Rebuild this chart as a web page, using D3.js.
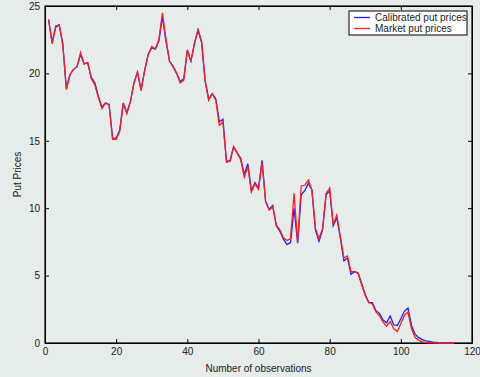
<!DOCTYPE html>
<html>
<head>
<meta charset="utf-8">
<script src="https://cdn.jsdelivr.net/npm/d3@7"></script>
<style>
  body { margin: 0; background: #e5ece9; }
  svg { display: block; font-family: "Liberation Sans", Arial, sans-serif; }
</style>
</head>
<body>
<script>
// observation index 1..115
let market = [24.0, 22.2, 23.4, 23.6, 22.1, 18.8, 19.9, 20.3, 20.5, 21.55,
  20.7, 20.8, 19.6, 19.15, 18.2, 17.4, 17.8, 17.7, 15.1, 15.1,
  15.7, 17.8, 17.0, 17.9, 19.3, 20.1, 18.7, 20.2, 21.4, 22.0,
  21.8, 22.5, 24.5, 22.5, 20.9, 20.5, 20.0, 19.3, 19.5, 21.75,
  20.9, 22.25, 23.25, 22.4, 19.4, 18.0, 18.5, 18.0, 16.15, 16.4,
  13.4, 13.5, 14.57, 14.1, 13.6, 12.3, 13.1, 11.2, 11.8, 11.4,
  13.4, 10.5, 9.85, 10.1, 8.75, 8.4, 7.8, 7.6, 7.75, 11.1,
  7.46, 11.65, 11.7, 12.1, 11.35, 8.5, 7.75, 8.5, 11.1, 11.5,
  8.8, 9.5, 7.9, 6.3, 6.45, 5.3, 5.3, 5.15, 4.3, 3.5,
  3.0, 2.9, 2.3, 2.0, 1.55, 1.25, 1.6, 1.05, 0.85, 1.45,
  2.05, 2.3, 1.05, 0.4, 0.2, 0.08, 0.03, 0.02, 0.01, 0.0,
  0.0, 0.0, 0.0, 0.0, 0.0];

let calibrated = [24.0, 22.3, 23.5, 23.6, 22.2, 18.9, 19.9, 20.3, 20.5, 21.4,
  20.7, 20.8, 19.7, 19.3, 18.3, 17.5, 17.8, 17.7, 15.2, 15.2,
  15.8, 17.8, 17.1, 17.9, 19.3, 20.1, 18.8, 20.2, 21.4, 21.9,
  21.8, 22.4, 24.2, 22.4, 20.9, 20.5, 20.0, 19.4, 19.6, 21.7,
  20.9, 22.2, 23.2, 22.3, 19.5, 18.1, 18.5, 18.1, 16.4, 16.6,
  13.5, 13.5, 14.55, 14.1, 13.7, 12.5, 13.3, 11.3, 11.9, 11.5,
  13.55, 10.5, 9.9, 10.2, 8.7, 8.3, 7.7, 7.3, 7.45, 10.0,
  7.4, 11.0, 11.3, 11.85, 11.35, 8.4, 7.55, 8.4, 11.0, 11.3,
  8.7, 9.3, 7.8, 6.1, 6.3, 5.1, 5.3, 5.2, 4.4, 3.6,
  3.0, 3.0, 2.4, 2.2, 1.7, 1.5, 2.0, 1.35, 1.3, 1.8,
  2.35, 2.6, 1.3, 0.65, 0.4, 0.25, 0.15, 0.12, 0.07, 0.04,
  0.0, 0.0, 0.0, 0.0, 0.0];

let xTicks = [0, 20, 40, 60, 80, 100, 120];
let yTicks = [0, 5, 10, 15, 20, 25];
let seriesNames = ['Calibrated put prices', 'Market put prices'];
let seriesColors = ['#1f1fff', '#ff1f1f'];

let width = 480, height = 377;
let margin = {left: 45, right: 8, top: 6, bottom: 34};

let svg = d3.select('body').append('svg').attr('width', width).attr('height', height);

let x = d3.scaleLinear().domain([0, 120]).range([margin.left, width - margin.right]);
let y = d3.scaleLinear().domain([0, 25]).range([height - margin.bottom, margin.top]);

// axes (ticks pointing in, like matlab)
svg.append('g')
   .attr('transform', 'translate(0,' + (height - margin.bottom) + ')')
   .call(d3.axisBottom(x).tickValues(xTicks).tickSizeInner(-4).tickSizeOuter(0).tickPadding(5));
svg.append('g')
   .attr('transform', 'translate(0,' + margin.top + ')')
   .call(d3.axisTop(x).tickValues(xTicks).tickSizeInner(-4).tickSizeOuter(0).tickFormat(''));
svg.append('g')
   .attr('transform', 'translate(' + margin.left + ',0)')
   .call(d3.axisLeft(y).tickValues(yTicks).tickSizeInner(-4).tickSizeOuter(0).tickPadding(5));
svg.append('g')
   .attr('transform', 'translate(' + (width - margin.right) + ',0)')
   .call(d3.axisRight(y).tickValues(yTicks).tickSizeInner(-4).tickSizeOuter(0).tickFormat(''));

svg.selectAll('.tick text').attr('font-size', 10).attr('fill', '#222').attr('font-family', '"Liberation Sans", Arial, sans-serif');
svg.selectAll('.domain').attr('stroke', '#000');

svg.append('rect')
   .attr('x', margin.left).attr('y', margin.top)
   .attr('width', width - margin.left - margin.right)
   .attr('height', height - margin.top - margin.bottom)
   .attr('fill', 'none').attr('stroke', '#000').attr('stroke-width', 1.2);

let line = d3.line()
   .x(function (d, i) { return x(i + 1); })
   .y(function (d) { return y(d); });

svg.append('path').datum(calibrated)
   .attr('d', line).attr('fill', 'none')
   .attr('stroke', seriesColors[0]).attr('stroke-width', 1.3);
svg.append('path').datum(market)
   .attr('d', line).attr('fill', 'none')
   .attr('stroke', seriesColors[1]).attr('stroke-width', 1.3);

// labels
svg.append('text')
   .attr('x', x(60)).attr('y', 372)
   .attr('text-anchor', 'middle').attr('font-size', 10).attr('fill', '#222')
   .text('Number of observations');
svg.append('text')
   .attr('transform', 'translate(21,' + y(12.5) + ') rotate(-90)')
   .attr('text-anchor', 'middle').attr('font-size', 10).attr('fill', '#222')
   .text('Put Prices');

// legend
let legend = svg.append('g');
legend.append('rect')
   .attr('x', 349).attr('y', 11).attr('width', 118).attr('height', 24)
   .attr('fill', '#fff').attr('stroke', '#000').attr('stroke-width', 1);
seriesNames.forEach(function (name, i) {
  let ly = 17.5 + i * 11;
  legend.append('line')
     .attr('x1', 354).attr('x2', 370).attr('y1', ly).attr('y2', ly)
     .attr('stroke', seriesColors[i]).attr('stroke-width', 1.3);
  legend.append('text')
     .attr('x', 375).attr('y', ly + 3.5)
     .attr('font-size', 10).attr('fill', '#222')
     .text(name);
});
</script>
</body>
</html>
